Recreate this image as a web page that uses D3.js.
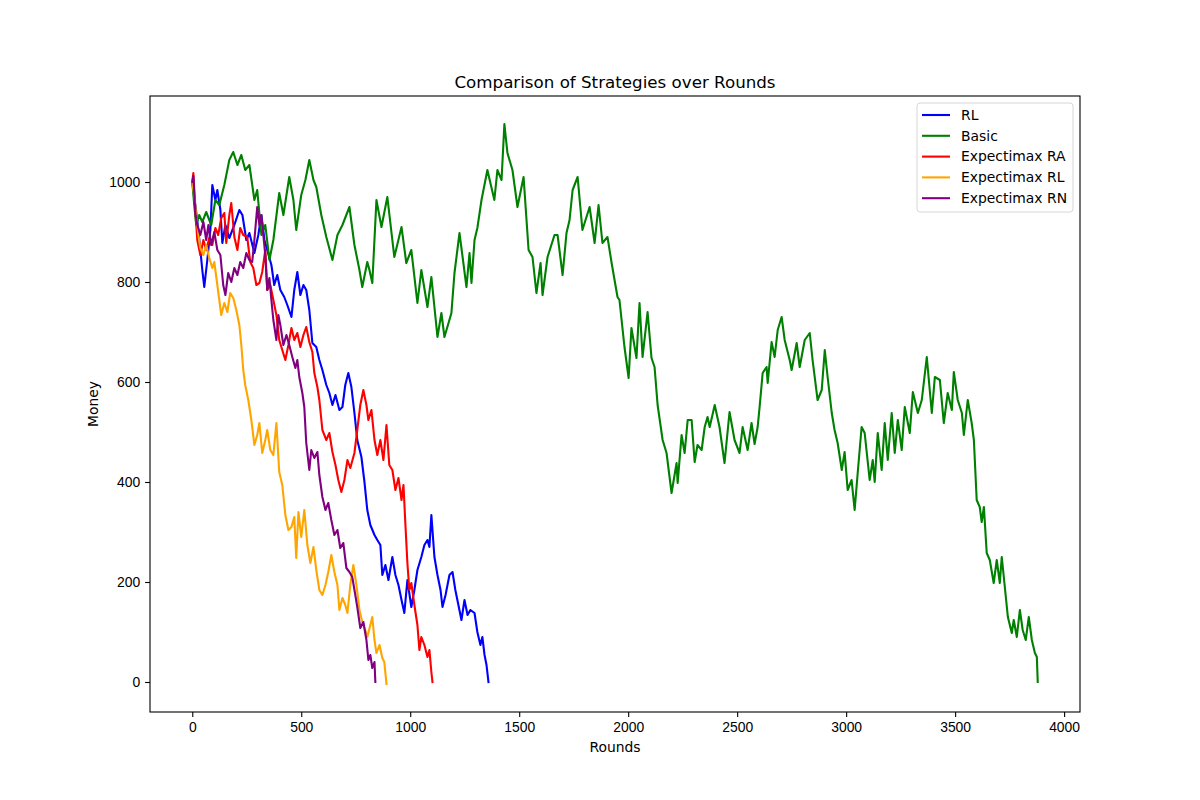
<!DOCTYPE html>
<html>
<head>
<meta charset="utf-8">
<script src="https://cdn.jsdelivr.net/npm/d3@7"></script>
<style>
  body { margin: 0; background: #fff; }
  svg { font-family: "DejaVu Sans", sans-serif; }
  .tick text { font-size: 13.9px; fill: #000; }
</style>
</head>
<body>
<svg id="chart" width="1200" height="800"></svg>
<script>
// [round, money]
var rlPoints = [
  [0,1000],[14,954],[28,904],[46,824],[55,790],[69,844],[83,904],[92,994],[106,964],[115,984],
  [129,944],[138,878],[152,914],[170,888],[193,914],[216,944],[230,934],[248,884],[262,898],[285,858],
  [303,894],[317,934],[331,884],[344,864],[363,834],[376,794],[390,814],[404,784],[422,770],[436,754],
  [455,730],[468,784],[482,820],[496,774],[510,794],[523,784],[537,744],[551,678],[569,670],[583,644],
  [597,624],[615,594],[629,578],[643,554],[657,574],[675,544],[689,550],[702,594],[716,618],[730,590],
  [744,538],[757,484],[776,450],[790,400],[803,344],[817,314],[836,294],[849,284],[863,274],[872,214],
  [886,234],[900,204],[918,250],[932,214],[946,194],[960,164],[973,138],[987,204],[1005,150],[1019,184],
  [1033,224],[1051,250],[1065,274],[1079,284],[1088,270],[1097,334],[1111,250],[1125,214],[1139,184],[1148,150],
  [1162,174],[1180,214],[1194,220],[1207,184],[1221,154],[1235,124],[1249,164],[1263,134],[1276,144],[1295,138],
  [1308,100],[1322,74],[1331,90],[1341,54],[1350,34],[1359,0]
];

var basicPoints = [
  [0,1000],[9,954],[18,914],[32,934],[46,920],[64,940],[87,914],[106,964],[124,954],[147,994],
  [170,1044],[188,1060],[207,1034],[225,1054],[243,1024],[262,1034],[285,964],[298,984],[317,894],[335,914],
  [354,844],[372,884],[399,978],[418,934],[445,1010],[464,964],[477,904],[500,974],[519,1004],[537,1044],
  [556,1004],[569,990],[592,934],[615,890],[643,844],[666,894],[689,914],[721,950],[744,874],[767,824],
  [780,790],[803,840],[813,824],[826,798],[845,964],[868,910],[895,970],[927,850],[960,910],[982,838],
  [1005,864],[1033,758],[1051,824],[1079,750],[1097,810],[1125,690],[1143,738],[1157,690],[1189,738],[1203,818],
  [1226,898],[1258,790],[1272,858],[1281,798],[1295,884],[1308,908],[1327,964],[1354,1024],[1386,964],[1400,1024],
  [1419,1004],[1432,1116],[1446,1058],[1469,1024],[1492,950],[1520,1010],[1543,864],[1561,850],[1579,778],[1598,838],
  [1607,774],[1630,850],[1662,894],[1676,894],[1699,814],[1717,898],[1731,924],[1745,984],[1768,1010],[1790,904],
  [1823,950],[1846,878],[1864,954],[1882,878],[1905,890],[1924,838],[1951,770],[1960,764],[1983,670],[2002,608],
  [2015,708],[2038,648],[2052,758],[2066,650],[2089,740],[2107,648],[2121,630],[2135,554],[2158,484],[2176,458],
  [2199,378],[2222,438],[2227,398],[2245,494],[2259,458],[2273,524],[2291,524],[2305,440],[2318,474],[2337,464],
  [2351,510],[2364,530],[2374,510],[2397,554],[2419,510],[2442,438],[2465,540],[2488,484],[2511,458],[2525,510],
  [2548,464],[2566,518],[2580,476],[2594,510],[2603,550],[2617,618],[2635,630],[2640,598],[2658,680],[2672,650],
  [2686,704],[2704,730],[2718,684],[2741,644],[2750,624],[2773,678],[2787,630],[2810,684],[2833,698],[2846,644],
  [2869,564],[2888,584],[2902,664],[2915,610],[2934,538],[2947,504],[2961,478],[2980,424],[2993,460],[3007,384],
  [3025,404],[3039,344],[3053,418],[3071,510],[3085,498],[3108,404],[3122,444],[3131,400],[3145,498],[3163,424],
  [3177,518],[3191,444],[3209,538],[3223,458],[3237,524],[3255,464],[3269,550],[3292,498],[3306,580],[3329,538],
  [3347,564],[3370,650],[3393,538],[3407,610],[3430,604],[3448,518],[3466,578],[3485,544],[3494,620],[3512,564],
  [3531,538],[3540,494],[3558,564],[3576,518],[3586,484],[3599,364],[3613,350],[3622,320],[3632,350],[3645,258],
  [3659,244],[3677,198],[3691,244],[3705,198],[3714,250],[3728,190],[3742,130],[3760,98],[3769,124],[3783,90],
  [3797,144],[3810,104],[3824,84],[3838,130],[3852,84],[3866,58],[3875,50],[3879,0]
];

var raPoints = [
  [0,1000],[5,1018],[14,944],[23,884],[37,854],[51,884],[64,864],[78,888],[92,874],[106,908],
  [119,894],[133,928],[147,938],[156,878],[170,934],[179,958],[193,890],[207,864],[220,908],[234,894],
  [252,890],[266,840],[280,828],[294,794],[308,798],[321,820],[335,864],[344,784],[358,794],[372,764],
  [386,734],[399,684],[413,664],[427,644],[441,674],[455,708],[468,684],[482,698],[496,670],[510,694],
  [523,710],[537,680],[551,660],[560,618],[574,590],[583,564],[597,504],[615,484],[629,498],[643,460],
  [657,434],[670,404],[684,380],[698,404],[712,444],[725,428],[744,458],[757,504],[771,554],[785,584],
  [799,554],[808,524],[822,544],[836,484],[849,454],[863,484],[877,444],[891,514],[904,434],[918,424],
  [932,384],[946,408],[960,364],[969,394],[978,314],[987,238],[996,184],[1005,198],[1019,154],[1033,114],
  [1042,64],[1051,90],[1065,74],[1079,50],[1088,64],[1097,20],[1102,0]
];

var rlExpPoints = [
  [0,1000],[9,974],[18,934],[28,894],[37,868],[51,854],[64,874],[78,848],[92,828],[101,840],
  [115,794],[124,764],[133,734],[147,758],[161,740],[174,778],[188,768],[202,744],[216,714],[225,674],
  [234,624],[243,594],[257,564],[271,524],[285,474],[298,494],[308,518],[321,458],[335,484],[344,504],
  [358,464],[372,454],[386,518],[399,420],[413,394],[427,334],[441,304],[455,310],[468,330],[477,248],
  [487,340],[500,290],[514,344],[528,274],[542,238],[556,270],[569,224],[583,184],[597,174],[611,194],
  [624,220],[638,254],[652,220],[666,194],[675,144],[689,168],[702,154],[712,138],[725,194],[739,234],
  [753,194],[767,144],[780,120],[794,104],[803,90],[817,114],[826,130],[836,84],[845,58],[859,74],
  [872,48],[881,40],[891,-4]
];

var rnPoints = [
  [0,1000],[5,1012],[14,938],[23,914],[37,894],[51,920],[64,884],[74,914],[87,874],[101,900],
  [115,864],[129,854],[142,794],[152,774],[165,818],[179,800],[193,828],[207,814],[220,840],[234,828],
  [248,858],[262,844],[275,840],[285,884],[298,950],[308,914],[317,934],[326,894],[335,854],[344,784],
  [354,808],[363,764],[372,724],[386,684],[395,734],[404,714],[418,674],[432,694],[445,674],[459,650],
  [473,628],[482,644],[491,610],[505,578],[514,550],[523,478],[537,424],[546,464],[560,448],[574,460],
  [583,414],[597,370],[611,344],[624,358],[638,324],[652,294],[666,304],[679,268],[693,278],[707,228],
  [721,220],[734,210],[748,174],[757,150],[771,108],[785,120],[799,84],[808,44],[817,54],[826,28],
  [836,40],[840,0]
];

var seriesNames = ['RL', 'Basic', 'Expectimax RA', 'Expectimax RL', 'Expectimax RN'];
var seriesData = [rlPoints, basicPoints, raPoints, rlExpPoints, rnPoints];
var seriesColors = ['blue', 'green', 'red', 'orange', 'purple'];

var xTicks = [0, 500, 1000, 1500, 2000, 2500, 3000, 3500, 4000];
var yTicks = [0, 200, 400, 600, 800, 1000];

var svg = d3.select('#chart');
var margin = {left: 150, right: 120, top: 96, bottom: 88};
var width = 1200 - margin.left - margin.right;
var height = 800 - margin.top - margin.bottom;

// matplotlib style 5% padding on both axes
var allPoints = d3.merge(seriesData);
var xExtent = d3.extent(allPoints, function(d) { return d[0]; });
var yExtent = d3.extent(allPoints, function(d) { return d[1]; });
var xPad = (xExtent[1] - xExtent[0]) * 0.05;
var yPad = (yExtent[1] - yExtent[0]) * 0.05;

var x = d3.scaleLinear().domain([xExtent[0] - xPad, xExtent[1] + xPad]).range([0, width]);
var y = d3.scaleLinear().domain([yExtent[0] - yPad, yExtent[1] + yPad]).range([height, 0]);

var g = svg.append('g').attr('transform', 'translate(' + margin.left + ',' + margin.top + ')');

g.append('defs').append('clipPath').attr('id', 'clip')
  .append('rect').attr('width', width).attr('height', height);

var line = d3.line()
  .x(function(d) { return x(d[0]); })
  .y(function(d) { return y(d[1]); });

var plot = g.append('g').attr('clip-path', 'url(#clip)');
seriesData.forEach(function(points, i) {
  plot.append('path')
    .datum(points)
    .attr('d', line)
    .attr('fill', 'none')
    .attr('stroke', seriesColors[i])
    .attr('stroke-width', 2.1)
    .attr('stroke-linejoin', 'round')
    .attr('stroke-linecap', 'square');
});

var xAxis = g.append('g')
  .attr('transform', 'translate(0,' + height + ')')
  .call(d3.axisBottom(x).tickValues(xTicks).tickSize(4.9).tickPadding(4.9).tickFormat(d3.format('d')));
var yAxis = g.append('g')
  .call(d3.axisLeft(y).tickValues(yTicks).tickSize(4.9).tickPadding(4.9).tickFormat(d3.format('d')));
[xAxis, yAxis].forEach(function(a) {
  a.select('.domain').remove();
  a.selectAll('.tick line').attr('stroke', '#000').attr('stroke-width', 1.1);
});

// frame
g.append('rect')
  .attr('width', width).attr('height', height)
  .attr('fill', 'none').attr('stroke', '#000').attr('stroke-width', 1.1);

svg.append('text')
  .attr('x', margin.left + width / 2).attr('y', 88)
  .attr('text-anchor', 'middle').attr('font-size', '16.7px')
  .text('Comparison of Strategies over Rounds');

svg.append('text')
  .attr('x', margin.left + width / 2).attr('y', 752)
  .attr('text-anchor', 'middle').attr('font-size', '13.9px')
  .text('Rounds');

svg.append('text')
  .attr('transform', 'translate(98,' + (margin.top + height / 2) + ') rotate(-90)')
  .attr('text-anchor', 'middle').attr('font-size', '13.9px')
  .text('Money');

// legend
var legend = svg.append('g').attr('transform', 'translate(917,103)');
legend.append('rect')
  .attr('width', 156).attr('height', 109).attr('rx', 3)
  .attr('fill', '#fff').attr('fill-opacity', 0.8)
  .attr('stroke', '#d6d6d6').attr('stroke-width', 1);
seriesNames.forEach(function(name, i) {
  var row = legend.append('g').attr('transform', 'translate(0,' + (12 + i * 20.8) + ')');
  row.append('line')
    .attr('x1', 5).attr('x2', 33)
    .attr('stroke', seriesColors[i]).attr('stroke-width', 2.1);
  row.append('text')
    .attr('x', 44).attr('dy', '0.35em').attr('font-size', '13.9px')
    .text(name);
});
</script>
</body>
</html>
